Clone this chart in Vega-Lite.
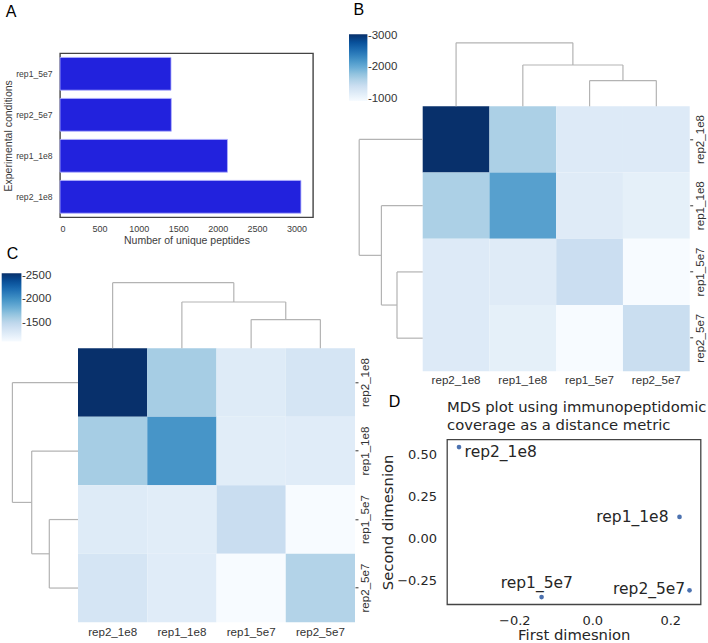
{
  "$schema": "https://vega.github.io/schema/vega-lite/v6.json",
  "padding": {"left": 1, "top": 2.3, "right": 0, "bottom": 0},
  "background": "white",
  "config": {
    "view": {"stroke": null},
    "title": {"font": "Liberation Sans", "fontSize": 16, "fontWeight": "normal", "color": "#000000", "anchor": "start", "frame": "group"},
    "axis": {"grid": false}
  },
  "datasets": {
    "bars": [
      {"cond": "rep1_5e7", "n": 1408},
      {"cond": "rep2_5e7", "n": 1412},
      {"cond": "rep1_1e8", "n": 2124},
      {"cond": "rep2_1e8", "n": 3056}
    ],
    "matB": [
      {"row": "rep2_1e8", "col": "rep2_1e8", "v": 3056},
      {"row": "rep2_1e8", "col": "rep1_1e8", "v": 1632},
      {"row": "rep2_1e8", "col": "rep1_5e7", "v": 1206},
      {"row": "rep2_1e8", "col": "rep2_5e7", "v": 1210},
      {"row": "rep1_1e8", "col": "rep2_1e8", "v": 1632},
      {"row": "rep1_1e8", "col": "rep1_1e8", "v": 2124},
      {"row": "rep1_1e8", "col": "rep1_5e7", "v": 1190},
      {"row": "rep1_1e8", "col": "rep2_5e7", "v": 1121},
      {"row": "rep1_5e7", "col": "rep2_1e8", "v": 1206},
      {"row": "rep1_5e7", "col": "rep1_1e8", "v": 1190},
      {"row": "rep1_5e7", "col": "rep1_5e7", "v": 1408},
      {"row": "rep1_5e7", "col": "rep2_5e7", "v": 930},
      {"row": "rep2_5e7", "col": "rep2_1e8", "v": 1210},
      {"row": "rep2_5e7", "col": "rep1_1e8", "v": 1121},
      {"row": "rep2_5e7", "col": "rep1_5e7", "v": 930},
      {"row": "rep2_5e7", "col": "rep2_5e7", "v": 1412}
    ],
    "matC": [
      {"row": "rep2_1e8", "col": "rep2_1e8", "v": 2549},
      {"row": "rep2_1e8", "col": "rep1_1e8", "v": 1607},
      {"row": "rep2_1e8", "col": "rep1_5e7", "v": 1281},
      {"row": "rep2_1e8", "col": "rep2_5e7", "v": 1346},
      {"row": "rep1_1e8", "col": "rep2_1e8", "v": 1607},
      {"row": "rep1_1e8", "col": "rep1_1e8", "v": 1984},
      {"row": "rep1_1e8", "col": "rep1_5e7", "v": 1259},
      {"row": "rep1_1e8", "col": "rep2_5e7", "v": 1265},
      {"row": "rep1_5e7", "col": "rep2_1e8", "v": 1281},
      {"row": "rep1_5e7", "col": "rep1_1e8", "v": 1259},
      {"row": "rep1_5e7", "col": "rep1_5e7", "v": 1440},
      {"row": "rep1_5e7", "col": "rep2_5e7", "v": 1100},
      {"row": "rep2_5e7", "col": "rep2_1e8", "v": 1346},
      {"row": "rep2_5e7", "col": "rep1_1e8", "v": 1265},
      {"row": "rep2_5e7", "col": "rep1_5e7", "v": 1100},
      {"row": "rep2_5e7", "col": "rep2_5e7", "v": 1549}
    ],
    "dendB": [
      {"p1": 25, "d1": 0, "p2": 25, "d2": 0.257},
      {"p1": 25, "d1": 0.257, "p2": 35, "d2": 0.257},
      {"p1": 35, "d1": 0.257, "p2": 35, "d2": 0},
      {"p1": 15, "d1": 0, "p2": 15, "d2": 0.413},
      {"p1": 15, "d1": 0.413, "p2": 30, "d2": 0.413},
      {"p1": 30, "d1": 0.413, "p2": 30, "d2": 0.257},
      {"p1": 5, "d1": 0, "p2": 5, "d2": 0.635},
      {"p1": 5, "d1": 0.635, "p2": 22.5, "d2": 0.635},
      {"p1": 22.5, "d1": 0.635, "p2": 22.5, "d2": 0.413}
    ],
    "dendC": [
      {"p1": 25, "d1": 0, "p2": 25, "d2": 0.287},
      {"p1": 25, "d1": 0.287, "p2": 35, "d2": 0.287},
      {"p1": 35, "d1": 0.287, "p2": 35, "d2": 0},
      {"p1": 15, "d1": 0, "p2": 15, "d2": 0.463},
      {"p1": 15, "d1": 0.463, "p2": 30, "d2": 0.463},
      {"p1": 30, "d1": 0.463, "p2": 30, "d2": 0.287},
      {"p1": 5, "d1": 0, "p2": 5, "d2": 0.656},
      {"p1": 5, "d1": 0.656, "p2": 22.5, "d2": 0.656},
      {"p1": 22.5, "d1": 0.656, "p2": 22.5, "d2": 0.463}
    ],
    "mds": [
      {"label": "rep2_1e8", "x": -0.3418, "y": 0.543},
      {"label": "rep1_1e8", "x": 0.2238, "y": 0.127},
      {"label": "rep2_5e7", "x": 0.2495, "y": -0.31},
      {"label": "rep1_5e7", "x": -0.13, "y": -0.35}
    ]
  },
  "bounds": "flush",
  "spacing": 295,
  "resolve": {"scale": {"color": "independent"}, "legend": {"color": "independent"}},
  "hconcat": [
    {
      "bounds": "flush",
      "spacing": 0,
      "resolve": {"scale": {"color": "independent"}, "legend": {"color": "independent"}},
      "vconcat": [
        {"width": 253, "height": 17, "data": {"values": []}, "mark": "point", "title": {"text": "A", "offset": 16, "dx": -54.3}},
        {
          "width": 253, "height": 164,
          "view": {"stroke": "#444444", "strokeWidth": 1.4},
          "data": {"name": "bars"},
          "mark": {"type": "bar", "fill": "#2222dd", "stroke": "#b0b0ff", "strokeWidth": 0.8},
          "encoding": {
            "x": {
              "field": "n", "type": "quantitative",
              "scale": {"domain": [0, 3209], "nice": false},
              "axis": {"values": [0, 500, 1000, 1500, 2000, 2500, 3000], "format": "d", "title": "Number of unique peptides", "ticks": false, "domain": false,
                "labelFont": "Liberation Sans", "labelFontSize": 9, "labelColor": "#3c3c3c", "labelPadding": 7.5,
                "titleFont": "Liberation Sans", "titleFontSize": 10.5, "titleFontWeight": "normal", "titleColor": "#3c3c3c", "titlePadding": 2}
            },
            "y": {
              "field": "cond", "type": "nominal", "sort": ["rep1_5e7", "rep2_5e7", "rep1_1e8", "rep2_1e8"],
              "scale": {"paddingInner": 0.2, "paddingOuter": 0.1},
              "axis": {"title": "Experimental conditions", "ticks": false, "domain": false,
                "labelFont": "Liberation Sans", "labelFontSize": 8.6, "labelColor": "#3c3c3c", "labelPadding": 8,
                "titleFont": "Liberation Sans", "titleFontSize": 10.5, "titleFontWeight": "normal", "titleColor": "#3c3c3c", "titlePadding": 2}
            }
          }
        },
        {"width": 253, "height": 60.4, "data": {"values": []}, "mark": "point"},
        {
          "width": 295, "height": 344,
          "title": {"text": "C", "offset": 11.5, "dx": -53.3},
          "resolve": {"scale": {"x": "independent", "y": "independent"}},
          "layer": [
            {
              "data": {"name": "matC"},
              "mark": {"type": "rect"},
              "encoding": {
                "x": {"field": "col", "type": "nominal", "sort": ["rep2_1e8", "rep1_1e8", "rep1_5e7", "rep2_5e7"],
                  "scale": {"paddingInner": 0, "paddingOuter": 0.12996, "align": 1},
                  "axis": {"title": null, "orient": "bottom", "labelAngle": 0, "ticks": false, "domain": false,
                    "labelFont": "Liberation Sans", "labelFontSize": 11.6, "labelColor": "#333333", "labelPadding": 4}},
                "y": {"field": "row", "type": "nominal", "sort": ["rep2_1e8", "rep1_1e8", "rep1_5e7", "rep2_5e7"],
                  "scale": {"paddingInner": 0, "paddingOuter": 0.51095, "align": 1},
                  "axis": {"title": null, "orient": "right", "labelAngle": 270, "labelAlign": "center", "labelBaseline": "top",
                    "ticks": true, "tickSize": 3, "tickColor": "#333333", "tickWidth": 1, "domain": false,
                    "labelFont": "Liberation Sans", "labelFontSize": 11.6, "labelColor": "#333333", "labelPadding": 2}},
                "color": {"field": "v", "type": "quantitative",
                  "scale": {"domain": [1100, 1281.125, 1462.25, 1643.375, 1824.5, 2005.625, 2186.75, 2367.875, 2549],
                    "range": ["#f7fbff", "#deebf7", "#c6dbef", "#9ecae1", "#6baed6", "#4292c6", "#2171b5", "#08519c", "#08306b"],
                    "interpolate": "rgb"},
                  "legend": {"orient": "none", "legendX": -58.3, "legendY": -5, "direction": "vertical",
                    "gradientLength": 68.3, "gradientThickness": 19.7, "gradientStrokeWidth": 0, "title": null,
                    "values": [1500, 2000, 2500], "format": "d", "labelExpr": "'-' + datum.label",
                    "labelFont": "Liberation Sans", "labelFontSize": 11.5, "labelColor": "#333333",
                    "labelOffset": 0.5, "labelBaseline": "middle", "padding": 0}}
              }
            },
            {
              "data": {"name": "dendC"},
              "mark": {"type": "rule", "color": "#b3b3b3", "strokeWidth": 1.2},
              "encoding": {
                "x": {"field": "p1", "type": "quantitative", "scale": {"domain": [-2.5993, 40], "nice": false, "zero": false}, "axis": null},
                "x2": {"field": "p2"},
                "y": {"field": "d1", "type": "quantitative", "scale": {"domain": [-2.74, 0.7], "nice": false, "zero": false}, "axis": null},
                "y2": {"field": "d2"}
              }
            },
            {
              "data": {"name": "dendC"},
              "mark": {"type": "rule", "color": "#b3b3b3", "strokeWidth": 1.2},
              "encoding": {
                "y": {"field": "p1", "type": "quantitative", "scale": {"domain": [-10.219, 40], "nice": false, "zero": false, "reverse": true}, "axis": null},
                "y2": {"field": "p2"},
                "x": {"field": "d1", "type": "quantitative", "scale": {"domain": [-2.77, 0.18], "nice": false, "zero": false, "reverse": true}, "axis": null},
                "x2": {"field": "d2"}
              }
            }
          ]
        }
      ]
    },
    {
      "bounds": "flush",
      "spacing": 68.2,
      "resolve": {"scale": {"color": "independent"}, "legend": {"color": "independent"}},
      "vconcat": [
        {
          "width": 334.7, "height": 335,
          "title": {"text": "B", "offset": 16, "dx": -1.6},
          "resolve": {"scale": {"x": "independent", "y": "independent"}},
          "layer": [
            {
              "data": {"name": "matB"},
              "mark": {"type": "rect"},
              "encoding": {
                "x": {"field": "col", "type": "nominal", "sort": ["rep2_1e8", "rep1_1e8", "rep1_5e7", "rep2_5e7"],
                  "scale": {"paddingInner": 0, "paddingOuter": 0.507116, "align": 1},
                  "axis": {"title": null, "orient": "bottom", "labelAngle": 0, "ticks": false, "domain": false,
                    "labelFont": "Liberation Sans", "labelFontSize": 11.6, "labelColor": "#333333", "labelPadding": 3.5}},
                "y": {"field": "row", "type": "nominal", "sort": ["rep2_1e8", "rep1_1e8", "rep1_5e7", "rep2_5e7"],
                  "scale": {"paddingInner": 0, "paddingOuter": 0.5283, "align": 1},
                  "axis": {"title": null, "orient": "right", "labelAngle": 270, "labelAlign": "center", "labelBaseline": "top",
                    "ticks": true, "tickSize": 3, "tickColor": "#333333", "tickWidth": 1, "domain": false,
                    "labelFont": "Liberation Sans", "labelFontSize": 11.6, "labelColor": "#333333", "labelPadding": 2}},
                "color": {"field": "v", "type": "quantitative",
                  "scale": {"domain": [930, 1195.75, 1461.5, 1727.25, 1993, 2258.75, 2524.5, 2790.25, 3056],
                    "range": ["#f7fbff", "#deebf7", "#c6dbef", "#9ecae1", "#6baed6", "#4292c6", "#2171b5", "#08519c", "#08306b"],
                    "interpolate": "rgb"},
                  "legend": {"orient": "none", "legendX": -6, "legendY": -2, "direction": "vertical",
                    "gradientLength": 66.7, "gradientThickness": 18.4, "gradientStrokeWidth": 0, "title": null,
                    "values": [1000, 2000, 3000], "format": "d", "labelExpr": "'-' + datum.label",
                    "labelFont": "Liberation Sans", "labelFontSize": 11.5, "labelColor": "#333333",
                    "labelOffset": 0.5, "labelBaseline": "middle", "padding": 0}}
              }
            },
            {
              "data": {"name": "dendB"},
              "mark": {"type": "rule", "color": "#b3b3b3", "strokeWidth": 1.2},
              "encoding": {
                "x": {"field": "p1", "type": "quantitative", "scale": {"domain": [-10.142, 40], "nice": false, "zero": false}, "axis": null},
                "x2": {"field": "p2"},
                "y": {"field": "d1", "type": "quantitative", "scale": {"domain": [-2.65, 0.7], "nice": false, "zero": false}, "axis": null},
                "y2": {"field": "d2"}
              }
            },
            {
              "data": {"name": "dendB"},
              "mark": {"type": "rule", "color": "#b3b3b3", "strokeWidth": 1.2},
              "encoding": {
                "y": {"field": "p1", "type": "quantitative", "scale": {"domain": [-10.566, 40], "nice": false, "zero": false, "reverse": true}, "axis": null},
                "y2": {"field": "p2"},
                "x": {"field": "d1", "type": "quantitative", "scale": {"domain": [-2.67, 0.677], "nice": false, "zero": false, "reverse": true}, "axis": null},
                "x2": {"field": "d2"}
              }
            }
          ]
        },
        {
          "bounds": "flush",
          "spacing": 0,
          "hconcat": [
            {"width": 91.4, "height": 1, "data": {"values": []}, "mark": "point", "title": {"text": "D", "offset": 29.6, "dx": 33.7}},
            {
              "width": 253.6, "height": 164.8,
              "view": {"stroke": "#444444", "strokeWidth": 1.3},
              "title": {"text": ["MDS plot using immunopeptidomic", "coverage as a distance metric"], "font": "DejaVu Sans", "fontSize": 14.8, "lineHeight": 18, "color": "#262626", "anchor": "start", "frame": "group", "offset": 6.5},
              "data": {"name": "mds"},
              "encoding": {
                "x": {"field": "x", "type": "quantitative", "scale": {"domain": [-0.3726, 0.2779], "nice": false, "zero": false},
                  "axis": {"values": [-0.2, 0, 0.2], "format": ".1f", "title": "First dimesnion", "ticks": false, "domain": false,
                    "labelFont": "DejaVu Sans", "labelFontSize": 13, "labelColor": "#262626", "labelPadding": 10,
                    "titleFont": "DejaVu Sans", "titleFontSize": 14.8, "titleFontWeight": "normal", "titleColor": "#262626", "titlePadding": 0.5}},
                "y": {"field": "y", "type": "quantitative", "scale": {"domain": [-0.393, 0.588], "nice": false, "zero": false},
                  "axis": {"values": [-0.25, 0, 0.25, 0.5], "format": ".2f", "title": "Second dimesnion", "ticks": false, "domain": false,
                    "labelFont": "DejaVu Sans", "labelFontSize": 13, "labelColor": "#262626", "labelPadding": 10.5,
                    "titleFont": "DejaVu Sans", "titleFontSize": 14.8, "titleFontWeight": "normal", "titleColor": "#262626", "titlePadding": 1}}
              },
              "layer": [
                {"mark": {"type": "circle", "size": 22, "color": "#4c72b0", "opacity": 1}},
                {"transform": [{"filter": "datum.label === 'rep2_1e8'"}],
                  "mark": {"type": "text", "align": "left", "baseline": "alphabetic", "dx": 5.6, "dy": 10, "font": "DejaVu Sans", "fontSize": 15.5, "color": "#262626"},
                  "encoding": {"text": {"field": "label"}}},
                {"transform": [{"filter": "datum.label === 'rep1_1e8'"}],
                  "mark": {"type": "text", "align": "right", "baseline": "alphabetic", "dx": -11, "dy": 5, "font": "DejaVu Sans", "fontSize": 15.5, "color": "#262626"},
                  "encoding": {"text": {"field": "label"}}},
                {"transform": [{"filter": "datum.label === 'rep2_5e7'"}],
                  "mark": {"type": "text", "align": "right", "baseline": "alphabetic", "dx": -4.3, "dy": 4, "font": "DejaVu Sans", "fontSize": 15.5, "color": "#262626"},
                  "encoding": {"text": {"field": "label"}}},
                {"transform": [{"filter": "datum.label === 'rep1_5e7'"}],
                  "mark": {"type": "text", "align": "center", "baseline": "alphabetic", "dx": -4.8, "dy": -9.3, "font": "DejaVu Sans", "fontSize": 15.5, "color": "#262626"},
                  "encoding": {"text": {"field": "label"}}}
              ]
            }
          ]
        }
      ]
    }
  ]
}
